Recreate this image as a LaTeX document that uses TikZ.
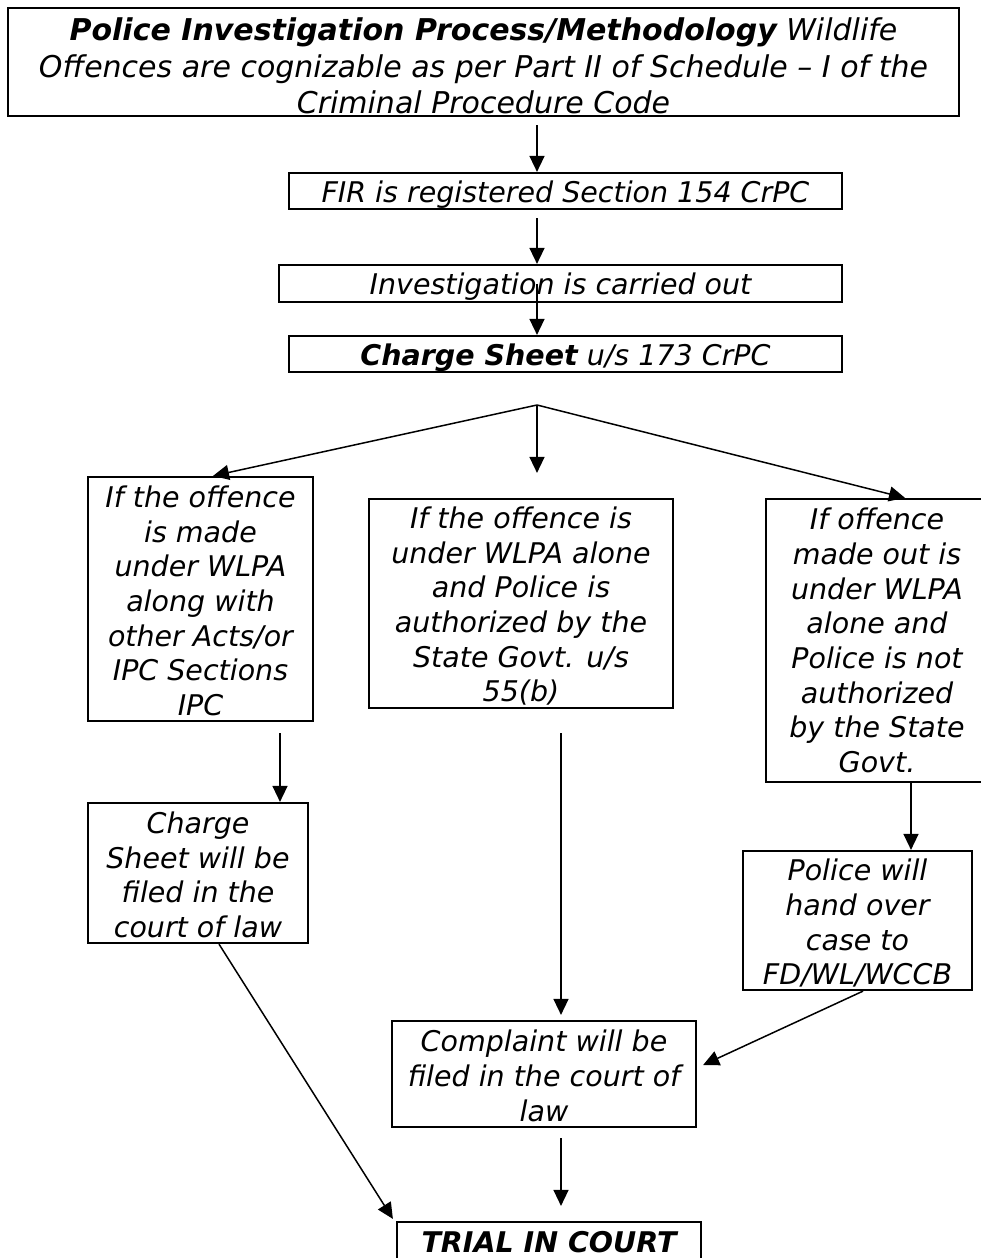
\documentclass[tikz,border=0pt]{standalone}
\usepackage{fontspec}
\setmainfont{DejaVu Sans}[BoldFont={DejaVu Sans Bold},ItalicFont={DejaVu Sans Oblique},BoldItalicFont={DejaVu Sans Bold Oblique}]
\usetikzlibrary{arrows.meta,calc}
\newcommand\mystrut[1]{\rule{0pt}{#1}}
\tikzset{
  box/.style={draw, line width=2.2pt, rectangle, inner sep=0pt, align=center,
    font=\fontsize{28.5}{34.7}\selectfont\itshape},
  onebox/.style={box, text height=22pt, text depth=0pt},
  topbox/.style={box, font=\fontsize{30}{36.5}\selectfont\itshape},
  arr/.style={line width=1.5pt, -{Triangle[length=16pt,width=15pt]}},
}
\begin{document}
\begin{tikzpicture}[x=1pt,y=-1pt]
\useasboundingbox (0,0) rectangle (981,1258);
\node[topbox, minimum width=951pt, minimum height=108pt] (top) at (483.5,62)
  {\mystrut{31pt}\textbf{Police Investigation Process/Methodology} Wildlife\\Offences are cognizable as per Part II of Schedule – I of the\\Criminal Procedure Code};
\node[onebox, minimum width=553pt, minimum height=36pt] (fir) at (565.5,191) {FIR is registered Section 154 CrPC};
\node[onebox, minimum width=563pt, minimum height=37pt] (inv) at (560.5,283.5) {Investigation is carried out};
\node[onebox, minimum width=553pt, minimum height=36pt] (cs) at (565.5,354) {\textbf{Charge Sheet} u/s 173 CrPC};
\node[box, minimum width=225pt, minimum height=244pt] (lbox) at (200.5,599)
  {\mystrut{25.5pt}If the offence\\is made\\under WLPA\\along with\\other Acts/or\\IPC Sections\\IPC};
\node[box, minimum width=304pt, minimum height=209pt] (mid) at (521,603.5)
  {\mystrut{27pt}If the offence is\\under WLPA alone\\and Police is\\authorized by the\\State Govt. u/s\\55(b)};
\node[box, minimum width=222pt, minimum height=283pt] (rbox) at (877,640.5)
  {If offence\\made out is\\under WLPA\\alone and\\Police is not\\authorized\\by the State\\Govt.};
\node[box, minimum width=220pt, minimum height=140pt] (csf) at (198,873)
  {\mystrut{25.5pt}Charge\\Sheet will be\\filed in the\\court of law};
\node[box, minimum width=229pt, minimum height=139pt] (pol) at (857.5,920.5)
  {\mystrut{27pt}Police will\\hand over\\case to\\FD/WL/WCCB};
\node[box, minimum width=304pt, minimum height=106pt] (cmp) at (544,1074)
  {\mystrut{25.5pt}Complaint will be\\filed in the court of\\law};
\node[box, minimum width=304pt, minimum height=40pt] (trial) at (549,1242)
  {\textbf{TRIAL IN COURT}};
\coordinate (apex) at (537,405);
\draw[arr] ($(top.south -| apex)+(0,8)$) -- (fir.north -| apex);
\draw[arr] ($(fir.south -| apex)+(0,8)$) -- (inv.north -| apex);
\draw[arr] (inv.center -| apex) -- (cs.north -| apex);
\draw[arr] (apex) -- ($(lbox.north)+(12.5,0)$);
\draw[arr] (apex) -- ($(mid.north -| apex)+(0,-25)$);
\draw[arr] (apex) -- ($(rbox.north)+(28,0)$);
\draw[arr] ($(lbox.south)+(79.5,11)$) -- ($(csf.north)+(82,0)$);
\draw[arr] ($(mid.south)+(40,24)$) -- ($(cmp.north)+(17,-5)$);
\draw[arr] ($(rbox.south)+(34,0)$) -- ($(pol.north)+(53.5,0)$);
\draw[arr] ($(pol.south)+(5.5,0)$) -- ($(cmp.east)+(6,-9)$);
\draw[arr] ($(csf.south)+(21,0)$) -- ($(trial.north west)+(-3,-2)$);
\draw[arr] ($(cmp.south)+(17,10)$) -- ($(trial.north)+(12,-15)$);
\end{tikzpicture}
\end{document}
